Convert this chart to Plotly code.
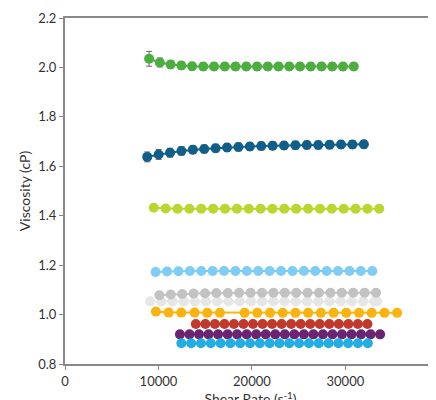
import plotly.graph_objects as go

green_x = [9000,10150,11300,12450,13600,14800,15950,17100,18250,19400,20550,21700,22850,24000,25150,26300,27450,28600,29750,30900]
green_y = [2.035,2.02,2.012,2.008,2.005,2.004,2.004,2.004,2.004,2.004,2.004,2.004,2.004,2.004,2.004,2.004,2.004,2.004,2.004,2.004]
green_e = [0.03,0.018,0.015,0.015,0.015,0.015,0.015,0.015,0.015,0.015,0.015,0.015,0.015,0.015,0.015,0.015,0.015,0.015,0.015,0.015]
blue_x = [8800,10020,11240,12460,13680,14900,16120,17340,18560,19780,21000,22220,23440,24660,25880,27100,28320,29540,30760,31980]
blue_y = [1.638,1.648,1.655,1.662,1.667,1.670,1.673,1.676,1.678,1.680,1.682,1.683,1.684,1.685,1.686,1.686,1.687,1.688,1.688,1.689]
blue_e = [0.02,0.02,0.018,0.017,0.016,0.016,0.016,0.016,0.016,0.016,0.016,0.016,0.016,0.016,0.016,0.016,0.016,0.016,0.016,0.016]
lime_x = [9500,10770,12040,13310,14580,15850,17120,18390,19660,20930,22200,23470,24740,26010,27280,28550,29820,31090,32360,33630]
lime_y = [1.432,1.429,1.428,1.428,1.428,1.428,1.428,1.428,1.428,1.428,1.428,1.428,1.428,1.428,1.428,1.428,1.428,1.428,1.428,1.428]
sky_x = [9700,10920,12140,13360,14580,15800,17020,18240,19460,20680,21900,23120,24340,25560,26780,28000,29220,30440,31660,32880]
sky_y = [1.172,1.174,1.175,1.176,1.176,1.176,1.176,1.176,1.176,1.176,1.176,1.176,1.176,1.176,1.176,1.176,1.176,1.176,1.176,1.176]
gray_x = [10100,11320,12540,13760,14980,16200,17420,18640,19860,21080,22300,23520,24740,25960,27180,28400,29620,30840,32060,33280]
gray_y = [1.078,1.081,1.083,1.085,1.086,1.087,1.087,1.088,1.088,1.088,1.088,1.088,1.088,1.088,1.088,1.088,1.088,1.088,1.088,1.088]
lgray_x = [9100,10300,11500,12700,13900,15100,16300,17500,18700,19900,21100,22300,23500,24700,25900,27100,28300,29500,30700,31900,33100,33400]
lgray_y = [1.054,1.053,1.053,1.053,1.053,1.053,1.053,1.053,1.053,1.053,1.053,1.053,1.053,1.053,1.053,1.053,1.053,1.053,1.053,1.053,1.053,1.053]
orange_x = [9730,11090,12440,13870,15220,16580,19220,20580,21940,23300,24660,26020,27380,28740,30100,31460,32820,34180,35540]
orange_y = [1.012,1.008,1.008,1.008,1.007,1.007,1.007,1.007,1.007,1.007,1.007,1.007,1.007,1.007,1.007,1.007,1.007,1.007,1.007]
red_x = [14000,15020,16040,17060,18080,19100,20120,21140,22160,23180,24200,25220,26240,27260,28280,29300,30320,31340,32360]
red_y = [0.962]*19
purple_x = [12300,13320,14340,15360,16380,17400,18420,19440,20460,21480,22500,23520,24540,25560,26580,27600,28620,29640,30660,31680,32700,33720]
purple_y = [0.920]*22
cyan_x = [12450,13500,14550,15600,16650,17700,18750,19800,20850,21900,22950,24000,25050,26100,27150,28200,29250,30300,31350,32400]
cyan_y = [0.884]*20

x_ticks = [0, 10000, 20000, 30000]
y_ticks = [0.8, 1.0, 1.2, 1.4, 1.6, 1.8, 2.0, 2.2]

fig = go.Figure()
def add(x, y, color, err=None):
    fig.add_trace(go.Scatter(
        x=x, y=y, mode="lines+markers",
        line=dict(color=color, width=2),
        marker=dict(color=color, size=10),
        error_y=dict(type="data", array=err, color="#666", thickness=1, width=3, visible=True) if err else None,
        showlegend=False))

add(lgray_x, lgray_y, "#e6e6e6")
add(gray_x, gray_y, "#c2c2c2")
add(sky_x, sky_y, "#7fcdf2")
add(orange_x, orange_y, "#fbb40f")
add(red_x, red_y, "#c0392b")
add(purple_x, purple_y, "#6b2472")
add(cyan_x, cyan_y, "#22aee3")
add(lime_x, lime_y, "#bcd630")
add(blue_x, blue_y, "#0f5f8a", blue_e)
add(green_x, green_y, "#4cae3f", green_e)

axis_common = dict(showgrid=False, zeroline=False, showline=True, linecolor="#888", linewidth=2,
                   mirror=True, ticks="outside", tickcolor="#888", ticklen=4, automargin=False,
                   tickfont=dict(size=13, color="#333"))
fig.update_layout(
    width=436, height=400, margin=dict(l=57, r=8, t=10, b=44),
    plot_bgcolor="white", paper_bgcolor="white",
    font=dict(family="Lato, sans-serif", color="#333"),
    xaxis=dict(range=[0, 39700], tickvals=x_ticks, ticktext=[str(v) for v in x_ticks],
               title=dict(text="Shear Rate (s<sup>-1</sup>)", font=dict(size=14), standoff=2), **axis_common),
    yaxis=dict(range=[0.8, 2.2], tickvals=y_ticks, ticktext=[f"{v:.1f}" for v in y_ticks],
               title=dict(text="Viscosity (cP)", font=dict(size=14), standoff=4), **axis_common),
)
fig.write_html("out.html")
